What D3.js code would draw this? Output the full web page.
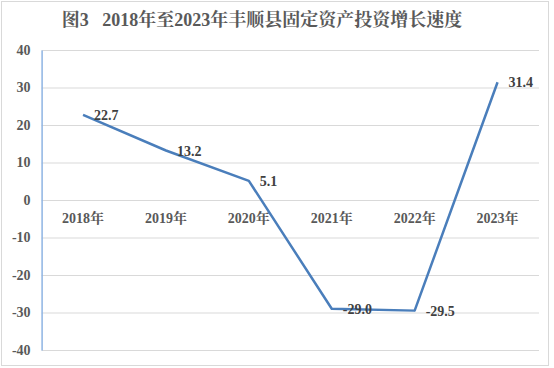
<!DOCTYPE html>
<html>
<head>
<meta charset="utf-8">
<script src="https://cdn.jsdelivr.net/npm/d3@7"></script>
<style>
  html, body { margin: 0; padding: 0; background: #ffffff; }
  svg { display: block; }
</style>
</head>
<body>
<div id="chart"></div>
<script>
// --- Data ---
const years = ['2018年', '2019年', '2020年', '2021年', '2022年', '2023年'];
const growth = [22.7, 13.2, 5.1, -29.0, -29.5, 31.4];
const yTicks = [40, 30, 20, 10, 0, -10, -20, -30, -40];
const titleText = '图3   2018年至2023年丰顺县固定资产投资增长速度';

// --- Layout ---
const W = 554, H = 368;
const plot = { left: 41.6, right: 539, top: 50, bottom: 350 };
const serif = '"Liberation Serif", "Times New Roman", "Noto Serif CJK SC", "Noto Sans CJK SC", serif';

const svg = d3.select('#chart').append('svg')
    .attr('width', W)
    .attr('height', H);

// outer frame
svg.append('rect')
    .attr('x', 1.5).attr('y', 1.5)
    .attr('width', 547).attr('height', 364)
    .attr('fill', '#ffffff')
    .attr('stroke', '#d9d9d9')
    .attr('stroke-width', 1);

const x = d3.scaleBand()
    .domain(years)
    .range([plot.left, plot.right]);

const y = d3.scaleLinear()
    .domain([-40, 40])
    .range([plot.bottom, plot.top]);

// gridlines
svg.append('g')
    .selectAll('line')
    .data(yTicks)
    .join('line')
    .attr('x1', plot.left)
    .attr('x2', plot.right)
    .attr('y1', d => y(d) + 0.5)
    .attr('y2', d => y(d) + 0.5)
    .attr('stroke', '#d9d9d9')
    .attr('stroke-width', 1);

// y axis (plain hyphen for negatives, like the source)
const yAxis = svg.append('g')
    .attr('transform', `translate(${plot.left},0)`)
    .call(d3.axisLeft(y).tickValues(yTicks).tickSize(0).tickPadding(11).tickFormat(d => String(d)));
yAxis.select('.domain')
    .attr('stroke', '#8eb4e3')
    .attr('stroke-width', 1.5);
yAxis.selectAll('text')
    .attr('font-family', serif)
    .attr('font-size', 14)
    .attr('font-weight', 'bold')
    .attr('fill', '#595959');

// category labels sit just below the zero line
svg.append('g')
    .selectAll('text')
    .data(years)
    .join('text')
    .attr('x', d => x(d) + x.bandwidth() / 2)
    .attr('y', y(0) + 23)
    .attr('text-anchor', 'middle')
    .attr('font-family', serif)
    .attr('font-size', 14)
    .attr('font-weight', 'bold')
    .attr('fill', '#595959')
    .text(d => d);

// series line
const line = d3.line()
    .x((d, i) => x(years[i]) + x.bandwidth() / 2)
    .y(d => y(d));

svg.append('path')
    .datum(growth)
    .attr('d', line)
    .attr('fill', 'none')
    .attr('stroke', '#4a7ebb')
    .attr('stroke-width', 2.5)
    .attr('stroke-linejoin', 'round');

// data labels
svg.append('g')
    .selectAll('text')
    .data(growth)
    .join('text')
    .attr('x', (d, i) => x(years[i]) + x.bandwidth() / 2 + 11)
    .attr('y', d => y(d) + 5)
    .attr('font-family', serif)
    .attr('font-size', 14)
    .attr('font-weight', 'bold')
    .attr('fill', '#404040')
    .text(d => d.toFixed(1));

// title
svg.append('text')
    .attr('x', 262)
    .attr('y', 26)
    .attr('text-anchor', 'middle')
    .attr('font-family', serif)
    .attr('font-size', 18)
    .attr('font-weight', 'bold')
    .attr('fill', '#595959')
    .attr('xml:space', 'preserve')
    .style('white-space', 'pre')
    .text(titleText);
</script>
</body>
</html>
